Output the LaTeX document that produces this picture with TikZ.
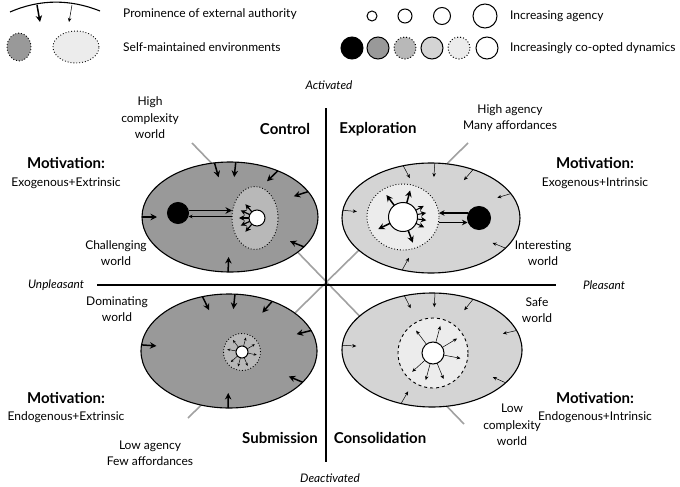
\documentclass[tikz,border=0pt]{standalone}
\usepackage{fontspec}
\setmainfont{Lato}
\usetikzlibrary{arrows.meta,calc,shapes.geometric}
\definecolor{dk}{gray}{0.60}
\definecolor{md}{gray}{0.72}
\definecolor{lt}{gray}{0.83}
\definecolor{vlt}{gray}{0.925}
\definecolor{diag}{gray}{0.63}
\tikzset{
  txt/.style={font=\fontsize{12}{16.5}\selectfont, align=center, inner sep=0pt},
  bold/.style={font=\fontsize{15}{18}\selectfont\bfseries, inner sep=0pt},
  ax/.style={font=\fontsize{11.8}{13}\selectfont\itshape, inner sep=0pt},
  env/.style={ellipse, draw=black, line width=1.1pt, inner sep=0pt, outer sep=0pt},
  inner/.style={ellipse, inner sep=0pt, outer sep=0pt, line width=0.9pt},
  disc/.style={circle, draw=black, line width=1pt, inner sep=0pt, outer sep=0pt},
  tk/.style={line width=1.5pt, -{Stealth[length=6.5pt,width=6.5pt]}},
  tn/.style={line width=0.5pt, -{Stealth[length=4pt,width=3.5pt]}},
  tm/.style={line width=1.2pt, -{Stealth[length=5.5pt,width=5.5pt]}},
  ts/.style={line width=0.45pt, -{Stealth[length=3pt,width=2.6pt]}},
}
\begin{document}
\begin{tikzpicture}[x=1pt,y=-1pt]
\path[use as bounding box, fill=white] (0,0) rectangle (680,487);

% ---------- legend ----------
\coordinate (arcL) at (10,12);
\coordinate (arcR) at (100,11);
\draw[line width=1.1pt] (arcL) .. controls (40,-1) and (70,-1) .. (arcR);
\coordinate (la1) at (37,5); \coordinate (la2) at (40,22);
\coordinate (lb1) at (72,5); \coordinate (lb2) at (69,22);
\draw[tk] (la1) -- (la2);
\draw[tn] (lb1) -- (lb2);
\node[txt, anchor=west] (leg1) at (123,14) {Prominence of external authority};
\node[inner, draw, dotted, fill=dk, minimum width=24pt, minimum height=28pt] (le1) at (19,47) {};
\node[inner, draw, dotted, fill=vlt, minimum width=46pt, minimum height=32pt] (le2) at (76,47) {};
\node[txt, anchor=west] (leg2) at (123,47) {Self-maintained environments};

\node[disc, minimum size=10pt] (a1) at (372,16) {};
\node[disc, minimum size=14pt] (a2) at (405,16) {};
\node[disc, minimum size=17pt] (a3) at (442,16) {};
\node[disc, minimum size=24pt] (a4) at (485,16) {};
\node[txt, anchor=west] (leg3) at (510,16) {Increasing agency};
\node[disc, fill=black, minimum size=22pt] (c1) at (352,48) {};
\node[disc, fill=dk, minimum size=22pt] (c2) at (378,48) {};
\node[disc, fill=md, dotted, minimum size=22pt] (c3) at (405,48) {};
\node[disc, fill=lt, minimum size=22pt] (c4) at (432,48) {};
\node[disc, fill=vlt, dotted, minimum size=22pt] (c5) at (459,48) {};
\node[disc, fill=white, minimum size=22pt] (c6) at (487,48) {};
\node[txt, anchor=west] (leg4) at (510,48) {Increasingly co-opted dynamics};

% ---------- diagonals ----------
\coordinate (d1a) at (192,143); \coordinate (d1b) at (464,424);
\coordinate (d2a) at (468,143); \coordinate (d2b) at (188,418);
\draw[diag, line width=1.6pt] (d1a) -- (d1b);
\draw[diag, line width=1.6pt] (d2a) -- (d2b);

% ---------- axes ----------
\coordinate (vt) at (326,108); \coordinate (vb) at (326,462);
\coordinate (hl) at (97,285); \coordinate (hr) at (556,285);
\draw[line width=1.5pt] (vt) -- (vb);
\draw[line width=1.5pt] (hl) -- (hr);

% ---------- top-left: control ----------
\node[env, fill=dk, minimum width=176pt, minimum height=110pt] (E1) at (230,217) {};
\node[inner, draw, dotted, fill=md, minimum width=46pt, minimum height=63pt] (I1) at (255,218) {};
\node[disc, fill=black, minimum size=21pt] (B1) at (178,213) {};
\node[disc, fill=white, minimum size=16pt] (W1) at (257,218) {};
\foreach \a in {180,106,84,44,18,-22,-92}
  \draw[tk] (E1.\a) -- ($(E1.\a)!15pt!(E1.center)$);
\draw[tk] ([yshift=2.5pt]B1.east) -- ([yshift=2.5pt]B1.east -| I1.west);
\draw[tn] ([yshift=-3.5pt]B1.east -| I1.west) -- ([yshift=-3.5pt]B1.east);
\foreach \a in {130,155,180,205,230}
  \draw[tm] (W1.\a) -- ($(W1.\a)!-10pt!(W1.center)$);

% ---------- top-right: exploration ----------
\node[env, fill=lt, minimum width=178pt, minimum height=110pt] (E2) at (431,218) {};
\node[inner, draw, dotted, fill=vlt, minimum width=72pt, minimum height=66pt] (I2) at (403,217) {};
\node[disc, fill=black, minimum size=23pt] (B2) at (479,218) {};
\node[disc, fill=white, minimum size=29pt] (W2) at (403,217) {};
\foreach \a in {175,118,86,49,17,-22,-119}
  \draw[tn] (E2.\a) -- ($(E2.\a)!14pt!(E2.center)$);
\draw[tm, line width=1.4pt] ([yshift=5pt]B2.west) -- ([yshift=5pt]B2.west -| I2.east);
\draw[tm, line width=1.4pt] ([yshift=-4.5pt]B2.west -| I2.east) -- ([yshift=-4.5pt]B2.west);
\foreach \a in {127,75,206,-69}
  \draw[tk] (W2.\a) -- ($(W2.\a)!-13pt!(W2.center)$);
\foreach \a in {28,10,-8,-26}
  \draw[tm, line width=1pt] (W2.\a) -- ($(W2.\a)!-9pt!(W2.center)$);

% ---------- bottom-left: submission ----------
\node[env, fill=dk, minimum width=176pt, minimum height=114pt] (E3) at (229,351) {};
\node[inner, draw, dotted, fill=md, minimum size=37pt] (I3) at (242,352) {};
\node[disc, fill=white, minimum size=12pt] (W3) at (242,352) {};
\foreach \a in {176,116,84,49,14,-23,-91}
  \draw[tk] (E3.\a) -- ($(E3.\a)!15pt!(E3.center)$);
\foreach \a in {127,75,31,-11,-68,-105,222,170}
  \draw[ts] (W3.\a) -- ($(W3.\a)!-9pt!(W3.center)$);

% ---------- bottom-right: consolidation ----------
\node[env, fill=lt, minimum width=180pt, minimum height=114pt] (E4) at (432,350) {};
\node[inner, draw, dashed, fill=vlt, minimum size=70pt] (I4) at (433,353) {};
\node[disc, fill=white, minimum size=22pt] (W4) at (433,353) {};
\foreach \a in {177,117,87,51,13,-24,-120}
  \draw[tn] (E4.\a) -- ($(E4.\a)!14pt!(E4.center)$);
\foreach \a in {127,75,31,-11,-68,-105,222}
  \draw[tn] (W4.\a) -- ($(W4.\a)!-17pt!(W4.center)$);

% ---------- labels ----------
\node[ax] (act) at (329,85) {Activated};
\node[ax] (deact) at (330,478) {Deactivated};
\node[ax] (unp) at (56,285) {Unpleasant};
\node[ax] (ple) at (604,285) {Pleasant};

\node[bold] (ctl) at (285,129) {Control};
\node[bold] (exp) at (378,129) {Exploration};
\node[bold] (sub) at (280,438) {Submission};
\node[bold] (con) at (380,438) {Consolidation};

\node[txt] (hc) at (150,118) {High\\complexity\\world};
\node[txt] (ha) at (510,118) {High agency\\Many affordances};
\node[txt] (la) at (150,453) {Low agency\\Few affordances};
\node[txt] (lc) at (512,425) {Low\\complexity\\world};

\node[txt] (cw) at (116,253) {Challenging\\world};
\node[txt] (iw) at (543,253) {Interesting\\world};
\node[txt] (dw) at (117,309) {Dominating\\world};
\node[txt] (sw) at (537,310) {Safe\\world};

\node[bold] (m1) at (66,163) {Motivation:};
\node[txt] (m1t) at (66,183) {Exogenous+Extrinsic};
\node[bold] (m2) at (595,163) {Motivation:};
\node[txt] (m2t) at (595,183) {Exogenous+Intrinsic};
\node[bold] (m3) at (66,398) {Motivation:};
\node[txt] (m3t) at (66,417) {Endogenous+Extrinsic};
\node[bold] (m4) at (595,398) {Motivation:};
\node[txt] (m4t) at (595,417) {Endogenous+Intrinsic};
\end{tikzpicture}
\end{document}
